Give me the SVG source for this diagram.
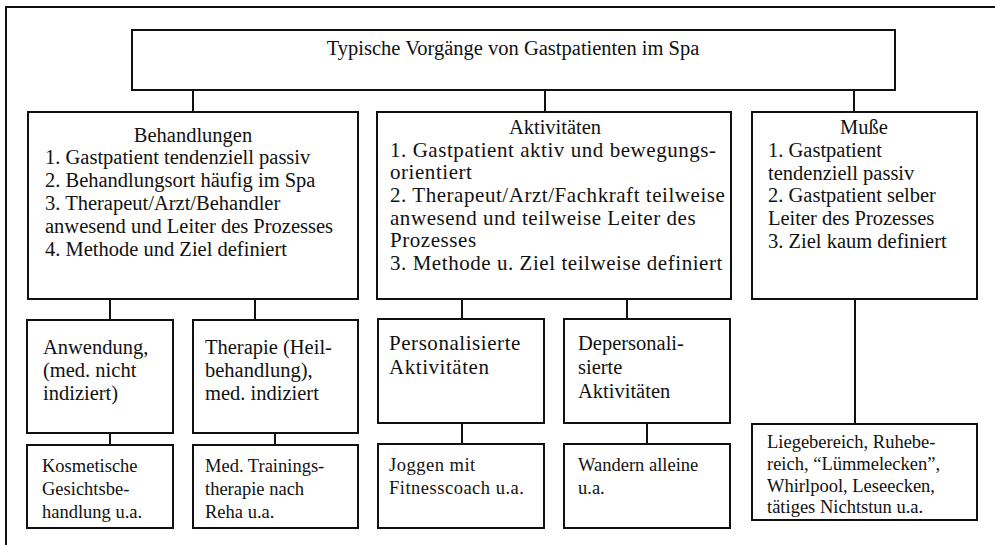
<svg xmlns="http://www.w3.org/2000/svg" width="995" height="545" viewBox="0 0 995 545">
<style>
.box{fill:#fff;stroke:#111;stroke-width:2}
.ln{fill:none;stroke:#111;stroke-width:2}
text{font-family:"Liberation Serif","Times New Roman",serif;fill:#111}
.t{font-size:20.5px}
.w{font-size:21px;letter-spacing:0.55px}
.s{font-size:18.5px}
.sw{font-size:18.5px;letter-spacing:0.5px}
.c{text-anchor:middle}
</style>
<rect width="995" height="545" fill="#fff"/>
<g id="connectors">
<path class="ln" d="M6,545 V7 H995"/>
<path class="ln" d="M193,90 V112 M545,90 V112 M854,90 V112"/>
<path class="ln" d="M110,299 V320 M255,299 V320 M110,433 V445 M275,433 V445"/>
<path class="ln" d="M462,299 V319 M627,299 V319 M462,423 V444 M647,423 V444"/>
<path class="ln" d="M855,299 V424"/>
</g>
<g id="root">
<rect class="box" x="132" y="30" width="763" height="60"/>
<text class="t c" x="513" y="55">Typische Vorgänge von Gastpatienten im Spa</text>
</g>
<g id="behandlungen">
<rect class="box" x="28" y="112" width="330" height="187"/>
<text class="t c" x="193" y="142">Behandlungen</text>
<text class="t" x="45" y="164">1. Gastpatient tendenziell passiv</text>
<text class="t" x="45" y="187">2. Behandlungsort häufig im Spa</text>
<text class="t" x="45" y="210">3. Therapeut/Arzt/Behandler</text>
<text class="t" x="45" y="233">anwesend und Leiter des Prozesses</text>
<text class="t" x="45" y="256">4. Methode und Ziel definiert</text>
</g>
<g id="aktivitaeten">
<rect class="box" x="377" y="112" width="354" height="187"/>
<text class="t c" x="555" y="134">Aktivitäten</text>
<text class="w" x="390" y="157">1. Gastpatient aktiv und bewegungs-</text>
<text class="w" x="390" y="179">orientiert</text>
<text class="w" x="390" y="202">2. Therapeut/Arzt/Fachkraft teilweise</text>
<text class="w" x="390" y="225">anwesend und teilweise Leiter des</text>
<text class="w" x="390" y="247">Prozesses</text>
<text class="w" x="390" y="270">3. Methode u. Ziel teilweise definiert</text>
</g>
<g id="musse">
<rect class="box" x="752" y="112" width="225" height="187"/>
<text class="t c" x="864" y="134">Muße</text>
<text class="t" x="768" y="157">1. Gastpatient</text>
<text class="t" x="768" y="180">tendenziell passiv</text>
<text class="t" x="768" y="202">2. Gastpatient selber</text>
<text class="t" x="768" y="225">Leiter des Prozesses</text>
<text class="t" x="768" y="248">3. Ziel kaum definiert</text>
</g>
<g id="anwendung">
<rect class="box" x="27" y="320" width="146" height="113"/>
<text class="t" x="43" y="354">Anwendung,</text>
<text class="t" x="43" y="377">(med. nicht</text>
<text class="t" x="43" y="400">indiziert)</text>
</g>
<g id="therapie">
<rect class="box" x="193" y="320" width="165" height="113"/>
<text class="t" x="205" y="354">Therapie (Heil-</text>
<text class="t" x="205" y="377">behandlung),</text>
<text class="t" x="205" y="400">med. indiziert</text>
</g>
<g id="personalisiert">
<rect class="box" x="378" y="319" width="166" height="104"/>
<text class="w" x="389" y="350">Personalisierte</text>
<text class="w" x="389" y="374">Aktivitäten</text>
</g>
<g id="depersonalisiert">
<rect class="box" x="564" y="319" width="166" height="104"/>
<text class="t" x="578" y="350">Depersonali-</text>
<text class="t" x="578" y="374">sierte</text>
<text class="t" x="578" y="398">Aktivitäten</text>
</g>
<g id="kosmetisch">
<rect class="box" x="27" y="445" width="146" height="83"/>
<text class="s" x="42" y="472">Kosmetische</text>
<text class="s" x="42" y="495">Gesichtsbe-</text>
<text class="s" x="42" y="518">handlung u.a.</text>
</g>
<g id="training">
<rect class="box" x="193" y="445" width="165" height="83"/>
<text class="s" x="205" y="472">Med. Trainings-</text>
<text class="s" x="205" y="495">therapie nach</text>
<text class="s" x="205" y="518">Reha u.a.</text>
</g>
<g id="joggen">
<rect class="box" x="378" y="444" width="166" height="84"/>
<text class="sw" x="389" y="471">Joggen mit</text>
<text class="sw" x="389" y="494">Fitnesscoach u.a.</text>
</g>
<g id="wandern">
<rect class="box" x="564" y="444" width="166" height="84"/>
<text class="s" x="578" y="471">Wandern alleine</text>
<text class="s" x="578" y="494">u.a.</text>
</g>
<g id="muessig">
<rect class="box" x="752" y="424" width="225" height="96"/>
<text class="s" x="767" y="448">Liegebereich, Ruhebe-</text>
<text class="s" x="767" y="470">reich, “Lümmelecken”,</text>
<text class="s" x="767" y="492">Whirlpool, Leseecken,</text>
<text class="s" x="767" y="513">tätiges Nichtstun u.a.</text>
</g>
</svg>
